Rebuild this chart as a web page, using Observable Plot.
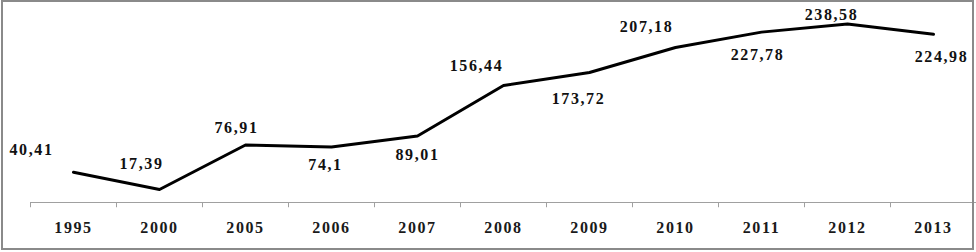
<!DOCTYPE html>
<html>
<head>
<meta charset="utf-8">
<script src="https://cdn.jsdelivr.net/npm/d3@7"></script>
<script src="https://cdn.jsdelivr.net/npm/@observablehq/plot@0.6"></script>
<style>
  html, body { margin: 0; padding: 0; background: #fff; }
  #wrap { position: relative; width: 976px; height: 252px; overflow: hidden; }
  #frame { position: absolute; left: 1px; top: 0px; width: 969px; height: 246px; border: 2px solid #8a8a8a; pointer-events: none; }
  #wrap svg text { font-family: "Liberation Serif", "Times New Roman", serif !important; letter-spacing: 1.6px; }
</style>
</head>
<body>
<div id="wrap"><div id="frame"></div></div>
<script>
const years = ["1995","2000","2005","2006","2007","2008","2009","2010","2011","2012","2013"];
const values = [40.41, 17.39, 76.91, 74.1, 89.01, 156.44, 173.72, 207.18, 227.78, 238.58, 224.98];
const valueLabels = ["40,41","17,39","76,91","74,1","89,01","156,44","173,72","207,18","227,78","238,58","224,98"];

const data = years.map((y, i) => ({year: y, value: values[i], label: valueLabels[i]}));

// label nudges (pixels) relative to each point
const nudges = [[-42,-22],[-18,-26],[-9,-17],[-6,18],[0,19],[-27,-20],[-11,26],[-29,-21],[-4,23],[-16,-9],[8,23]];

const font = "Liberation Serif";

const plot = Plot.plot({
  width: 976,
  height: 252,
  marginLeft: 30,
  marginRight: 0,
  marginTop: 15,
  marginBottom: 50,
  style: {fontFamily: font, background: "transparent"},
  x: {type: "band", domain: years, padding: 0, label: null},
  y: {domain: [0, 250], axis: null},
  marks: [
    Plot.ruleY([0], {stroke: "#a0a0a0", strokeWidth: 1}),
    Plot.ruleX(years, {x: d => d, dx: -43, y1: 0, y2: -7, stroke: "#a0a0a0", strokeWidth: 1}),
    Plot.axisX({tickSize: 0, tickPadding: 19, fontSize: 16, fontWeight: "bold", fontFamily: font, fill: "#1a1a1a"}),
    Plot.line(data, {x: "year", y: "value", stroke: "#000", strokeWidth: 3, strokeLinejoin: "round"}),
    ...data.map((d, i) => Plot.text([d], {
      x: "year", y: "value", text: "label",
      dx: nudges[i][0], dy: nudges[i][1],
      fontSize: 16, fontWeight: "bold", fontFamily: font, fill: "#111"
    }))
  ]
});
document.getElementById("wrap").prepend(plot);
</script>
</body>
</html>
